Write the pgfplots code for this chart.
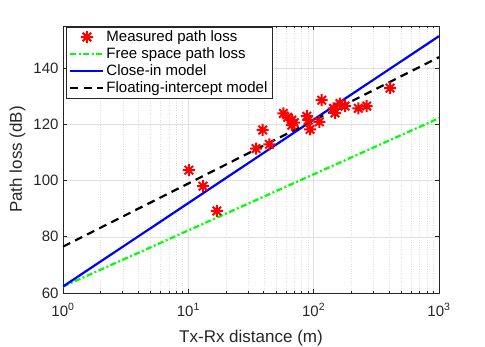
\documentclass[border=0pt]{standalone}
\usepackage{fontspec}
\setmainfont{Liberation Sans}
\usepackage{pgfplots}
\pgfplotsset{compat=1.18}
\definecolor{axgray}{rgb}{0.15,0.15,0.15}
\definecolor{gridgray}{rgb}{0.88,0.88,0.88}
% matlab-like '*' marker: four strokes through the centre
\pgfdeclareplotmark{mstar}{%
  \pgfpathmoveto{\pgfqpoint{-\pgfplotmarksize}{0pt}}\pgfpathlineto{\pgfqpoint{\pgfplotmarksize}{0pt}}%
  \pgfpathmoveto{\pgfqpoint{0pt}{-\pgfplotmarksize}}\pgfpathlineto{\pgfqpoint{0pt}{\pgfplotmarksize}}%
  \pgfpathmoveto{\pgfqpoint{-0.707\pgfplotmarksize}{-0.707\pgfplotmarksize}}\pgfpathlineto{\pgfqpoint{0.707\pgfplotmarksize}{0.707\pgfplotmarksize}}%
  \pgfpathmoveto{\pgfqpoint{-0.707\pgfplotmarksize}{0.707\pgfplotmarksize}}\pgfpathlineto{\pgfqpoint{0.707\pgfplotmarksize}{-0.707\pgfplotmarksize}}%
  \pgfusepathqstroke}
\pgfplotsset{
  lineleg/.style={legend image code/.code={\draw[##1] (0pt,0pt) -- (33pt,0pt);}},
  markleg/.style={legend image code/.code={\draw[mark repeat=2,mark phase=2,##1] plot coordinates {(0pt,0pt)(16.5pt,0pt)(33pt,0pt)};}}
}

\begin{document}
\begin{tikzpicture}
\useasboundingbox (-63pt,-53pt) rectangle (422pt,293pt);
\begin{axis}[
  at={(0pt,0pt)},anchor=south west,
  scale only axis,width=376pt,height=267pt,
  xmode=log,xmin=1,xmax=1000,ymin=60,ymax=155,
  xtick={1,10,100,1000},
  xticklabels={10\textsuperscript{0},10\textsuperscript{1},10\textsuperscript{2},10\textsuperscript{3}},
  ytick={60,80,100,120,140},
  yticklabel={\pgfmathprintnumber{\tick}},
  /pgf/number format/assume math mode=true,
  grid=both,major grid style={gridgray,line width=0.5pt},
  minor grid style={gridgray,dotted,line width=0.5pt},
  axis line style={axgray,line width=0.6pt},
  tick style={axgray,line width=0.6pt},
  major tick length=4pt,minor tick length=2pt,
  tick label style={font=\fontsize{15}{17}\selectfont,text=axgray},
  xticklabel style={anchor=base,yshift=-23pt},
  yticklabel style={xshift=-1pt},
  label style={font=\fontsize{17}{19}\selectfont,text=axgray},
  xlabel={Tx-Rx distance (m)},ylabel={Path loss (dB)},
  xlabel style={at={([yshift=-49pt]axis description cs:0.5,0)},anchor=base},
  ylabel style={at={([xshift=-41pt]axis description cs:0,0.5)},anchor=base,rotate=0},
  legend cell align=left,
  legend style={at={(0.008,0.996)},anchor=north west,draw=axgray,line width=0.5pt,
    font=\fontsize{15}{17}\selectfont,row sep=0.7pt,inner xsep=3pt,inner ysep=1.5pt},
  clip=true]
  \addplot[only marks,red,mark=mstar,mark size=6pt,line width=2pt,markleg]
    coordinates {
    (10.1,103.7) (13.1,98.0) (16.9,89.2) (34.7,111.4) (39.2,118.0) (44.3,112.9)
    (57.3,123.9) (62,122.5) (66.9,121.5) (66.9,119.7) (70,120.6)
    (88.1,122.9) (90.7,121.5) (93.6,118.2) (111,120.9) (116,128.6)
    (144,125.7) (148,124.1) (162,127.4) (178,126.5) (227,125.7) (265,126.5) (407,132.9)};
  \addlegendentry{Measured path loss}
  \addplot[green,line width=2.2pt,dash pattern=on 6pt off 2.5pt on 2pt off 2.5pt,lineleg]
    coordinates {(1,62.3) (1000,122.2)};
  \addlegendentry{Free space path loss}
  \addplot[blue,line width=2.2pt,lineleg]
    coordinates {(1,62.3) (1000,151.4)};
  \addlegendentry{Close-in model}
  \addplot[black,line width=2.2pt,dash pattern=on 8pt off 5.5pt,lineleg]
    coordinates {(1,76.5) (1000,143.9)};
  \addlegendentry{Floating-intercept model}
\end{axis}
\end{tikzpicture}
\end{document}
